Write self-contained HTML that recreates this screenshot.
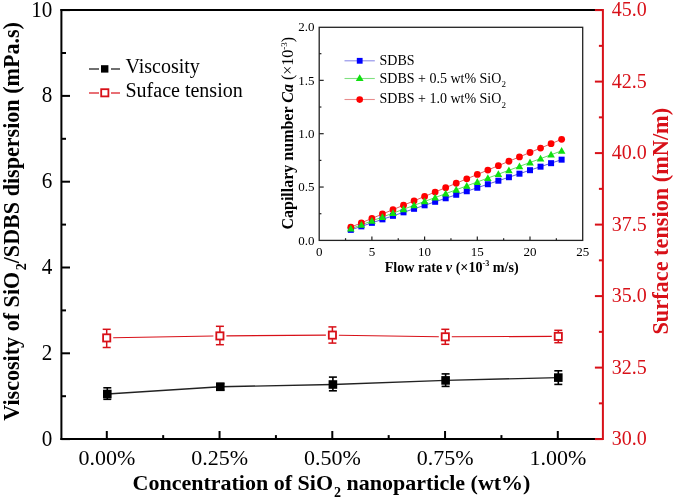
<!DOCTYPE html><html><head><meta charset="utf-8"><style>html,body{margin:0;padding:0;background:#fff;width:675px;height:500px;overflow:hidden}svg{display:block;will-change:transform}text{font-family:"Liberation Serif",serif}</style></head><body>
<svg width="675" height="500" viewBox="0 0 675 500">
<rect width="675" height="500" fill="#fff"/>
<g stroke="#000" stroke-width="2" fill="none">
<line x1="60.4" y1="10.1" x2="602.9" y2="10.1"/>
<line x1="60.4" y1="439.1" x2="602.9" y2="439.1"/>
<line x1="61.4" y1="9.1" x2="61.4" y2="440.1"/>
<line x1="61.4" y1="439.10" x2="70.0" y2="439.10"/>
<line x1="61.4" y1="396.20" x2="66.0" y2="396.20"/>
<line x1="61.4" y1="353.30" x2="70.0" y2="353.30"/>
<line x1="61.4" y1="310.40" x2="66.0" y2="310.40"/>
<line x1="61.4" y1="267.50" x2="70.0" y2="267.50"/>
<line x1="61.4" y1="224.60" x2="66.0" y2="224.60"/>
<line x1="61.4" y1="181.70" x2="70.0" y2="181.70"/>
<line x1="61.4" y1="138.80" x2="66.0" y2="138.80"/>
<line x1="61.4" y1="95.90" x2="70.0" y2="95.90"/>
<line x1="61.4" y1="53.00" x2="66.0" y2="53.00"/>
<line x1="61.4" y1="10.10" x2="70.0" y2="10.10"/>
<line x1="106.80" y1="439.1" x2="106.80" y2="431.0"/>
<line x1="163.18" y1="439.1" x2="163.18" y2="435.1"/>
<line x1="219.55" y1="439.1" x2="219.55" y2="431.0"/>
<line x1="275.93" y1="439.1" x2="275.93" y2="435.1"/>
<line x1="332.30" y1="439.1" x2="332.30" y2="431.0"/>
<line x1="388.68" y1="439.1" x2="388.68" y2="435.1"/>
<line x1="445.05" y1="439.1" x2="445.05" y2="431.0"/>
<line x1="501.43" y1="439.1" x2="501.43" y2="435.1"/>
<line x1="557.80" y1="439.1" x2="557.80" y2="431.0"/>
</g>
<g stroke="#d81018" stroke-width="2" fill="none">
<line x1="602.9" y1="9.1" x2="602.9" y2="440.1"/>
<line x1="602.9" y1="439.10" x2="594.9" y2="439.10"/>
<line x1="602.9" y1="403.35" x2="598.9" y2="403.35"/>
<line x1="602.9" y1="367.60" x2="594.9" y2="367.60"/>
<line x1="602.9" y1="331.85" x2="598.9" y2="331.85"/>
<line x1="602.9" y1="296.10" x2="594.9" y2="296.10"/>
<line x1="602.9" y1="260.35" x2="598.9" y2="260.35"/>
<line x1="602.9" y1="224.60" x2="594.9" y2="224.60"/>
<line x1="602.9" y1="188.85" x2="598.9" y2="188.85"/>
<line x1="602.9" y1="153.10" x2="594.9" y2="153.10"/>
<line x1="602.9" y1="117.35" x2="598.9" y2="117.35"/>
<line x1="602.9" y1="81.60" x2="594.9" y2="81.60"/>
<line x1="602.9" y1="45.85" x2="598.9" y2="45.85"/>
<line x1="602.9" y1="10.10" x2="594.9" y2="10.10"/>
</g>
<g font-size="23" fill="#000" text-anchor="end">
<text transform="translate(52.3,445.50) scale(0.92,1)">0</text>
<text transform="translate(52.3,359.70) scale(0.92,1)">2</text>
<text transform="translate(52.3,273.90) scale(0.92,1)">4</text>
<text transform="translate(52.3,188.10) scale(0.92,1)">6</text>
<text transform="translate(52.3,102.30) scale(0.92,1)">8</text>
<text transform="translate(52.3,16.50) scale(0.92,1)">10</text>
</g>
<g font-size="22" fill="#000" text-anchor="middle">
<text x="106.80" y="465.1">0.00%</text>
<text x="219.55" y="465.1">0.25%</text>
<text x="332.30" y="465.1">0.50%</text>
<text x="445.05" y="465.1">0.75%</text>
<text x="557.80" y="465.1">1.00%</text>
</g>
<g font-size="22" fill="#d81018">
<text transform="translate(611.8,445.40) scale(0.91,1)">30.0</text>
<text transform="translate(611.8,373.90) scale(0.91,1)">32.5</text>
<text transform="translate(611.8,302.40) scale(0.91,1)">35.0</text>
<text transform="translate(611.8,230.90) scale(0.91,1)">37.5</text>
<text transform="translate(611.8,159.40) scale(0.91,1)">40.0</text>
<text transform="translate(611.8,87.90) scale(0.91,1)">42.5</text>
<text transform="translate(611.8,16.40) scale(0.91,1)">45.0</text>
</g>
<text x="331.5" y="490" font-size="22" font-weight="bold" text-anchor="middle">Concentration of SiO<tspan font-size="14" dx="1" dy="6.6">2</tspan><tspan dy="-6.6"> nanoparticle (wt%)</tspan></text>
<text transform="translate(19.3,221.4) rotate(-90)" x="0" y="0" font-size="22.1" font-weight="bold" text-anchor="middle">Viscosity of SiO<tspan font-size="14" dx="1.5" dy="6.6">2</tspan><tspan dy="-6.6">/SDBS dispersion (mPa.s)</tspan></text>
<text transform="translate(667.6,221.2) rotate(-90)" x="0" y="0" font-size="22.3" font-weight="bold" fill="#d81018" text-anchor="middle">Surface tension (mN/m)</text>
<g stroke="#222" stroke-width="1.3"><line x1="89" y1="69" x2="99" y2="69"/><line x1="111" y1="69" x2="120" y2="69"/></g>
<rect x="101" y="65.2" width="7.4" height="7.4" fill="#000"/>
<g stroke="#d81018" stroke-width="1.2"><line x1="89" y1="93" x2="99" y2="93"/><line x1="111" y1="93" x2="120" y2="93"/></g>
<rect x="101.2" y="89.2" width="7.2" height="7.2" fill="#fff" stroke="#d81018" stroke-width="1.8"/>
<text x="125.5" y="73.3" font-size="20">Viscosity</text>
<text x="125.5" y="97.4" font-size="20">Suface tension</text>
<polyline points="107.3,394.0 220.3,386.8 332.9,384.5 445.6,380.4 558.3,377.6" fill="none" stroke="#222" stroke-width="1.4"/>
<line x1="113.20" y1="337.79" x2="213.40" y2="336.01" stroke="#d81018" stroke-width="1.1"/>
<line x1="226.40" y1="335.85" x2="325.90" y2="335.15" stroke="#d81018" stroke-width="1.1"/>
<line x1="338.90" y1="335.20" x2="438.80" y2="336.70" stroke="#d81018" stroke-width="1.1"/>
<line x1="451.80" y1="336.78" x2="551.80" y2="336.42" stroke="#d81018" stroke-width="1.1"/>
<g stroke="#000" stroke-width="1.6"><line x1="107.3" y1="387.8" x2="107.3" y2="399.3"/><line x1="103.3" y1="387.8" x2="111.3" y2="387.8"/><line x1="103.3" y1="399.3" x2="111.3" y2="399.3"/></g>
<rect x="103.00" y="389.70" width="8.6" height="8.6" fill="#000"/>
<g stroke="#000" stroke-width="1.6"><line x1="220.3" y1="383.5" x2="220.3" y2="390.0"/><line x1="216.3" y1="383.5" x2="224.3" y2="383.5"/><line x1="216.3" y1="390.0" x2="224.3" y2="390.0"/></g>
<rect x="216.00" y="382.50" width="8.6" height="8.6" fill="#000"/>
<g stroke="#000" stroke-width="1.6"><line x1="332.9" y1="377.1" x2="332.9" y2="390.8"/><line x1="328.9" y1="377.1" x2="336.9" y2="377.1"/><line x1="328.9" y1="390.8" x2="336.9" y2="390.8"/></g>
<rect x="328.60" y="380.20" width="8.6" height="8.6" fill="#000"/>
<g stroke="#000" stroke-width="1.6"><line x1="445.6" y1="373.9" x2="445.6" y2="386.4"/><line x1="441.6" y1="373.9" x2="449.6" y2="373.9"/><line x1="441.6" y1="386.4" x2="449.6" y2="386.4"/></g>
<rect x="441.30" y="376.10" width="8.6" height="8.6" fill="#000"/>
<g stroke="#000" stroke-width="1.6"><line x1="558.3" y1="370.8" x2="558.3" y2="384.4"/><line x1="554.3" y1="370.8" x2="562.3" y2="370.8"/><line x1="554.3" y1="384.4" x2="562.3" y2="384.4"/></g>
<rect x="554.00" y="373.30" width="8.6" height="8.6" fill="#000"/>
<g stroke="#d81018" stroke-width="1.5"><line x1="106.7" y1="329.3" x2="106.7" y2="333.9"/><line x1="106.7" y1="341.9" x2="106.7" y2="347.5"/><line x1="102.7" y1="329.3" x2="110.7" y2="329.3"/><line x1="102.7" y1="347.5" x2="110.7" y2="347.5"/></g>
<rect x="103.10" y="334.30" width="7.2" height="7.2" fill="#fff" stroke="#d81018" stroke-width="1.8"/>
<g stroke="#d81018" stroke-width="1.5"><line x1="219.9" y1="326.3" x2="219.9" y2="331.9"/><line x1="219.9" y1="339.9" x2="219.9" y2="344.7"/><line x1="215.9" y1="326.3" x2="223.9" y2="326.3"/><line x1="215.9" y1="344.7" x2="223.9" y2="344.7"/></g>
<rect x="216.30" y="332.30" width="7.2" height="7.2" fill="#fff" stroke="#d81018" stroke-width="1.8"/>
<g stroke="#d81018" stroke-width="1.5"><line x1="332.4" y1="326.9" x2="332.4" y2="331.1"/><line x1="332.4" y1="339.1" x2="332.4" y2="343.1"/><line x1="328.4" y1="326.9" x2="336.4" y2="326.9"/><line x1="328.4" y1="343.1" x2="336.4" y2="343.1"/></g>
<rect x="328.80" y="331.50" width="7.2" height="7.2" fill="#fff" stroke="#d81018" stroke-width="1.8"/>
<g stroke="#d81018" stroke-width="1.5"><line x1="445.3" y1="329.3" x2="445.3" y2="332.8"/><line x1="445.3" y1="340.8" x2="445.3" y2="344.3"/><line x1="441.3" y1="329.3" x2="449.3" y2="329.3"/><line x1="441.3" y1="344.3" x2="449.3" y2="344.3"/></g>
<rect x="441.70" y="333.20" width="7.2" height="7.2" fill="#fff" stroke="#d81018" stroke-width="1.8"/>
<g stroke="#d81018" stroke-width="1.5"><line x1="558.3" y1="330.3" x2="558.3" y2="332.4"/><line x1="558.3" y1="340.4" x2="558.3" y2="342.7"/><line x1="554.3" y1="330.3" x2="562.3" y2="330.3"/><line x1="554.3" y1="342.7" x2="562.3" y2="342.7"/></g>
<rect x="554.70" y="332.80" width="7.2" height="7.2" fill="#fff" stroke="#d81018" stroke-width="1.8"/>
<rect x="319.2" y="27.3" width="263.50" height="213.10" fill="#fff" stroke="#222" stroke-width="1.3"/>
<g stroke="#222" stroke-width="1.2">
<line x1="345.55" y1="240.4" x2="345.55" y2="238.20000000000002"/>
<line x1="371.90" y1="240.4" x2="371.90" y2="236.4"/>
<line x1="398.25" y1="240.4" x2="398.25" y2="238.20000000000002"/>
<line x1="424.60" y1="240.4" x2="424.60" y2="236.4"/>
<line x1="450.95" y1="240.4" x2="450.95" y2="238.20000000000002"/>
<line x1="477.30" y1="240.4" x2="477.30" y2="236.4"/>
<line x1="503.65" y1="240.4" x2="503.65" y2="238.20000000000002"/>
<line x1="530.00" y1="240.4" x2="530.00" y2="236.4"/>
<line x1="556.35" y1="240.4" x2="556.35" y2="238.20000000000002"/>
<line x1="319.2" y1="213.72" x2="321.4" y2="213.72"/>
<line x1="319.2" y1="187.05" x2="323.7" y2="187.05"/>
<line x1="319.2" y1="160.38" x2="321.4" y2="160.38"/>
<line x1="319.2" y1="133.70" x2="323.7" y2="133.70"/>
<line x1="319.2" y1="107.03" x2="321.4" y2="107.03"/>
<line x1="319.2" y1="80.35" x2="323.7" y2="80.35"/>
<line x1="319.2" y1="53.68" x2="321.4" y2="53.68"/>
</g>
<g font-size="13" fill="#000" text-anchor="end">
<text x="314.6" y="244.80">0.0</text>
<text x="314.6" y="191.45">0.5</text>
<text x="314.6" y="138.10">1.0</text>
<text x="314.6" y="84.75">1.5</text>
<text x="314.6" y="31.40">2.0</text>
</g>
<g font-size="13" fill="#000" text-anchor="middle">
<text x="319.20" y="256">0</text>
<text x="371.90" y="256">5</text>
<text x="424.60" y="256">10</text>
<text x="477.30" y="256">15</text>
<text x="530.00" y="256">20</text>
<text x="582.70" y="256">25</text>
</g>
<text x="451.7" y="272.4" font-size="15.6" font-weight="bold" text-anchor="middle" textLength="134" lengthAdjust="spacingAndGlyphs">Flow rate <tspan font-style="italic">v</tspan> (×10<tspan font-size="9" dy="-6">-3</tspan><tspan dy="6"> m/s)</tspan></text>
<text transform="translate(292.8,133.2) rotate(-90)" font-size="16" font-weight="bold" text-anchor="middle">Capillary number <tspan font-style="italic">Ca</tspan><tspan font-weight="normal"> (×10</tspan><tspan font-weight="normal" font-size="9" dy="-6">-3</tspan><tspan font-weight="normal" dy="6">)</tspan></text>
<line x1="344.5" y1="60.8" x2="374.8" y2="60.8" stroke="#8c8ce8" stroke-width="1.1"/>
<rect x="356.8" y="57.9" width="5.8" height="5.8" fill="#0000ff"/>
<line x1="344.5" y1="78.5" x2="374.8" y2="78.5" stroke="#80e080" stroke-width="1.1"/>
<path d="M359.7,74.3 L363.6,80.9 L355.8,80.9 Z" fill="#10e010"/>
<line x1="344.5" y1="99.5" x2="374.8" y2="99.5" stroke="#e88c8c" stroke-width="1.1"/>
<circle cx="359.7" cy="99.6" r="3.3" fill="#ff0000"/>
<g font-size="14" fill="#000">
<text x="379.5" y="65.4">SDBS</text>
<text x="379.5" y="82.7">SDBS + 0.5 wt% SiO<tspan font-size="9" dy="4.5">2</tspan></text>
<text x="379.5" y="103.4">SDBS + 1.0 wt% SiO<tspan font-size="9" dy="4.5">2</tspan></text>
</g>
<polyline points="350.82,229.87 361.36,226.36 371.90,222.85 382.44,219.34 392.98,215.83 403.52,212.32 414.06,208.81 424.60,205.30 435.14,201.79 445.68,198.27 456.22,194.76 466.76,191.25 477.30,187.74 487.84,184.23 498.38,180.72 508.92,177.21 519.46,173.70 530.00,170.19 540.54,166.68 551.08,163.17 561.62,159.66" fill="none" stroke="#6060e0" stroke-width="1"/>
<polyline points="350.82,228.72 361.36,224.82 371.90,220.93 382.44,217.03 392.98,213.14 403.52,209.24 414.06,205.35 424.60,201.45 435.14,197.56 445.68,193.67 456.22,189.77 466.76,185.88 477.30,181.98 487.84,178.09 498.38,174.19 508.92,170.30 519.46,166.40 530.00,162.51 540.54,158.61 551.08,154.72 561.62,150.83" fill="none" stroke="#60e060" stroke-width="1"/>
<polyline points="350.82,227.21 361.36,222.82 371.90,218.42 382.44,214.02 392.98,209.63 403.52,205.23 414.06,200.84 424.60,196.44 435.14,192.04 445.68,187.65 456.22,183.25 466.76,178.86 477.30,174.46 487.84,170.06 498.38,165.67 508.92,161.27 519.46,156.88 530.00,152.48 540.54,148.08 551.08,143.69 561.62,139.29" fill="none" stroke="#e06060" stroke-width="1"/>
<rect x="347.82" y="226.87" width="6" height="6" fill="#0000ff"/>
<rect x="358.36" y="223.36" width="6" height="6" fill="#0000ff"/>
<rect x="368.90" y="219.85" width="6" height="6" fill="#0000ff"/>
<rect x="379.44" y="216.34" width="6" height="6" fill="#0000ff"/>
<rect x="389.98" y="212.83" width="6" height="6" fill="#0000ff"/>
<rect x="400.52" y="209.32" width="6" height="6" fill="#0000ff"/>
<rect x="411.06" y="205.81" width="6" height="6" fill="#0000ff"/>
<rect x="421.60" y="202.30" width="6" height="6" fill="#0000ff"/>
<rect x="432.14" y="198.79" width="6" height="6" fill="#0000ff"/>
<rect x="442.68" y="195.27" width="6" height="6" fill="#0000ff"/>
<rect x="453.22" y="191.76" width="6" height="6" fill="#0000ff"/>
<rect x="463.76" y="188.25" width="6" height="6" fill="#0000ff"/>
<rect x="474.30" y="184.74" width="6" height="6" fill="#0000ff"/>
<rect x="484.84" y="181.23" width="6" height="6" fill="#0000ff"/>
<rect x="495.38" y="177.72" width="6" height="6" fill="#0000ff"/>
<rect x="505.92" y="174.21" width="6" height="6" fill="#0000ff"/>
<rect x="516.46" y="170.70" width="6" height="6" fill="#0000ff"/>
<rect x="527.00" y="167.19" width="6" height="6" fill="#0000ff"/>
<rect x="537.54" y="163.68" width="6" height="6" fill="#0000ff"/>
<rect x="548.08" y="160.17" width="6" height="6" fill="#0000ff"/>
<rect x="558.62" y="156.66" width="6" height="6" fill="#0000ff"/>
<circle cx="350.82" cy="227.21" r="3.4" fill="#ff0000"/>
<circle cx="361.36" cy="222.82" r="3.4" fill="#ff0000"/>
<circle cx="371.90" cy="218.42" r="3.4" fill="#ff0000"/>
<circle cx="382.44" cy="214.02" r="3.4" fill="#ff0000"/>
<circle cx="392.98" cy="209.63" r="3.4" fill="#ff0000"/>
<circle cx="403.52" cy="205.23" r="3.4" fill="#ff0000"/>
<circle cx="414.06" cy="200.84" r="3.4" fill="#ff0000"/>
<circle cx="424.60" cy="196.44" r="3.4" fill="#ff0000"/>
<circle cx="435.14" cy="192.04" r="3.4" fill="#ff0000"/>
<circle cx="445.68" cy="187.65" r="3.4" fill="#ff0000"/>
<circle cx="456.22" cy="183.25" r="3.4" fill="#ff0000"/>
<circle cx="466.76" cy="178.86" r="3.4" fill="#ff0000"/>
<circle cx="477.30" cy="174.46" r="3.4" fill="#ff0000"/>
<circle cx="487.84" cy="170.06" r="3.4" fill="#ff0000"/>
<circle cx="498.38" cy="165.67" r="3.4" fill="#ff0000"/>
<circle cx="508.92" cy="161.27" r="3.4" fill="#ff0000"/>
<circle cx="519.46" cy="156.88" r="3.4" fill="#ff0000"/>
<circle cx="530.00" cy="152.48" r="3.4" fill="#ff0000"/>
<circle cx="540.54" cy="148.08" r="3.4" fill="#ff0000"/>
<circle cx="551.08" cy="143.69" r="3.4" fill="#ff0000"/>
<circle cx="561.62" cy="139.29" r="3.4" fill="#ff0000"/>
<path d="M350.82,224.82 L354.62,231.62 L347.02,231.62 Z" fill="#10e010"/>
<path d="M361.36,220.92 L365.16,227.72 L357.56,227.72 Z" fill="#10e010"/>
<path d="M371.90,217.03 L375.70,223.83 L368.10,223.83 Z" fill="#10e010"/>
<path d="M382.44,213.13 L386.24,219.93 L378.64,219.93 Z" fill="#10e010"/>
<path d="M392.98,209.24 L396.78,216.04 L389.18,216.04 Z" fill="#10e010"/>
<path d="M403.52,205.34 L407.32,212.14 L399.72,212.14 Z" fill="#10e010"/>
<path d="M414.06,201.45 L417.86,208.25 L410.26,208.25 Z" fill="#10e010"/>
<path d="M424.60,197.55 L428.40,204.35 L420.80,204.35 Z" fill="#10e010"/>
<path d="M435.14,193.66 L438.94,200.46 L431.34,200.46 Z" fill="#10e010"/>
<path d="M445.68,189.77 L449.48,196.57 L441.88,196.57 Z" fill="#10e010"/>
<path d="M456.22,185.87 L460.02,192.67 L452.42,192.67 Z" fill="#10e010"/>
<path d="M466.76,181.98 L470.56,188.78 L462.96,188.78 Z" fill="#10e010"/>
<path d="M477.30,178.08 L481.10,184.88 L473.50,184.88 Z" fill="#10e010"/>
<path d="M487.84,174.19 L491.64,180.99 L484.04,180.99 Z" fill="#10e010"/>
<path d="M498.38,170.29 L502.18,177.09 L494.58,177.09 Z" fill="#10e010"/>
<path d="M508.92,166.40 L512.72,173.20 L505.12,173.20 Z" fill="#10e010"/>
<path d="M519.46,162.50 L523.26,169.30 L515.66,169.30 Z" fill="#10e010"/>
<path d="M530.00,158.61 L533.80,165.41 L526.20,165.41 Z" fill="#10e010"/>
<path d="M540.54,154.71 L544.34,161.51 L536.74,161.51 Z" fill="#10e010"/>
<path d="M551.08,150.82 L554.88,157.62 L547.28,157.62 Z" fill="#10e010"/>
<path d="M561.62,146.93 L565.42,153.73 L557.82,153.73 Z" fill="#10e010"/>
</svg></body></html>
